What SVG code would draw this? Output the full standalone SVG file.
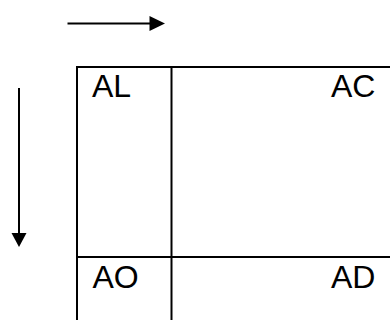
<svg xmlns="http://www.w3.org/2000/svg" width="390" height="320" viewBox="0 0 390 320">
<style>
.ln{stroke:#000;stroke-width:2;fill:none}
.t{font-family:"Liberation Sans",Arial,sans-serif;font-size:32px;fill:#000}
</style>
<rect width="390" height="320" fill="#fff"/>
<g id="connectors">
<path d="M67.5,23.5 H150" class="ln"/>
<path d="M149.5,16 L165,23.5 L149.5,31 Z" fill="#000"/>
<path d="M19,88 V233" class="ln"/>
<path d="M11.5,233 L19,247 L26.5,233 Z" fill="#000"/>
</g>
<g id="grid">
<path d="M77,320 V67 H392" class="ln"/>
<path d="M171.5,67 V320" class="ln"/>
<path d="M77,257 H392" class="ln"/>
</g>
<g id="AL"><text class="t" x="92" y="97">AL</text></g>
<g id="AC"><text class="t" x="331" y="97">AC</text></g>
<g id="AO"><text class="t" x="92.5" y="288">AO</text></g>
<g id="AD"><text class="t" x="331" y="288">AD</text></g>
</svg>
